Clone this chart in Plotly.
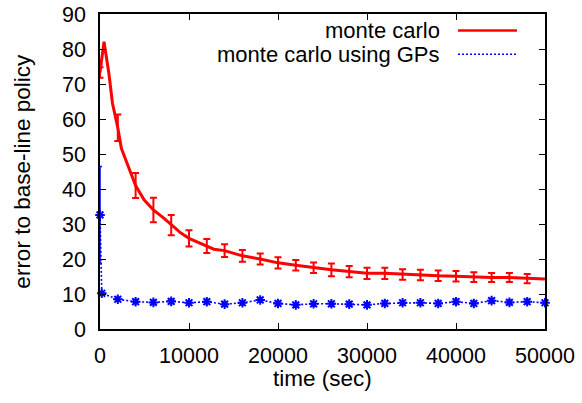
import plotly.graph_objects as go

# Red series: "monte carlo" (line points)
red_line_x = [0, 450, 1000, 1400, 2000, 2400, 2900, 3450, 4000, 4950, 6000, 7200, 8000, 9000,
              10000, 12000, 12800, 14000, 16000, 18000, 20000, 22000, 24000, 26000, 28000,
              30000, 32000, 34000, 36000, 38000, 40000, 42000, 44000, 46000, 48000, 50000]
red_line_y = [73.3, 82.1, 73.0, 64.5, 57.5, 51.6, 48.3, 44.5, 41.0, 36.9, 34.0, 31.6, 29.7, 27.6,
              25.9, 23.7, 22.8, 22.4, 20.9, 20.0, 18.9, 18.2, 17.5, 16.9, 16.4,
              15.9, 15.9, 15.6, 15.4, 15.2, 15.1, 14.8, 14.7, 14.7, 14.4, 14.3]

# Red error bars (every 2000 s)
red_err_x = [0, 2000, 4000, 6000, 8000, 10000, 12000, 14000, 16000, 18000, 20000, 22000, 24000,
             26000, 28000, 30000, 32000, 34000, 36000, 38000, 40000, 42000, 44000, 46000, 48000]
red_err_y = [73.3, 57.5, 41.0, 34.0, 29.7, 25.9, 23.7, 22.4, 20.9, 20.0, 18.9, 18.2, 17.5,
             16.9, 16.4, 15.9, 15.9, 15.6, 15.4, 15.2, 15.1, 14.8, 14.7, 14.7, 14.4]
red_err = [1.5, 3.8, 3.6, 3.5, 2.9, 2.3, 2.0, 1.8, 1.7, 1.6, 1.6, 1.5, 1.5,
           1.8, 1.6, 1.6, 1.6, 1.5, 1.5, 1.5, 1.5, 1.4, 1.3, 1.3, 1.3]

# Blue series: "monte carlo using GPs"
blue_x = [0, 200, 2000, 4000, 6000, 8000, 10000, 12000, 14000, 16000, 18000, 20000, 22000,
          24000, 26000, 28000, 30000, 32000, 34000, 36000, 38000, 40000, 42000, 44000, 46000,
          48000, 50000]
blue_y = [32.6, 10.2, 8.5, 7.8, 7.6, 7.9, 7.5, 7.8, 7.1, 7.5, 8.3, 7.3, 6.9,
          7.2, 7.2, 7.1, 6.9, 7.3, 7.5, 7.5, 7.3, 7.8, 7.3, 8.1, 7.6,
          7.8, 7.5]
blue_err = [13.8, 0.3, 0.6, 0.6, 0.6, 0.6, 0.6, 0.6, 0.6, 0.6, 0.6, 0.6, 0.6,
            0.6, 0.6, 0.6, 0.6, 0.6, 0.6, 0.6, 0.6, 0.6, 0.6, 0.6, 0.6,
            0.6, 0.0]

x_ticks = [0, 10000, 20000, 30000, 40000, 50000]
y_ticks = [0, 10, 20, 30, 40, 50, 60, 70, 80, 90]

legend_labels = ["monte carlo", "monte carlo using GPs"]
x_title = "time (sec)"
y_title = "error to base-line policy"

RED = "#ff0000"
BLUE = "#0000ff"
FONT = "Liberation Sans, Arial, sans-serif"
TICK_SIZE = 21.5
TEXT_SIZE = 22.5
LEGEND_SIZE = 22

fig = go.Figure()

fig.add_trace(go.Scatter(
    x=blue_x, y=blue_y, mode="lines+markers",
    line=dict(color=BLUE, width=1.6, dash="2px,2px"),
    marker=dict(symbol="asterisk-open", size=8, color=BLUE, line=dict(color=BLUE, width=2)),
    error_y=dict(type="data", array=blue_err, visible=True, color=BLUE, thickness=1.5, width=2),
    showlegend=False, cliponaxis=False))

fig.add_trace(go.Scatter(
    x=red_line_x, y=red_line_y, mode="lines",
    line=dict(color=RED, width=3),
    showlegend=False, cliponaxis=False))

fig.add_trace(go.Scatter(
    x=red_err_x, y=red_err_y, mode="markers",
    marker=dict(size=1, color=RED),
    error_y=dict(type="data", array=red_err, visible=True, color=RED, thickness=2, width=3.5),
    showlegend=False, cliponaxis=False))

axis_common = dict(
    showgrid=False, zeroline=False, showline=True, linecolor="black", linewidth=1.5,
    mirror="ticks", ticks="inside", ticklen=6, tickwidth=1, tickcolor="black",
    tickfont=dict(family=FONT, size=TICK_SIZE, color="black"),
)

fig.update_xaxes(range=[0, 50000], tickvals=x_ticks, ticktext=[str(v) for v in x_ticks],
                 ticklabelstandoff=6, **axis_common)
fig.update_yaxes(range=[0, 90], tickvals=y_ticks, ticktext=[str(v) for v in y_ticks],
                 ticklabelstandoff=8, **axis_common)

# Legend (text right-aligned, sample line to the right, gnuplot style)
LEG_Y = [0.948, 0.872]
fig.add_annotation(x=0.768, y=LEG_Y[0], xref="paper", yref="paper", text=legend_labels[0],
                   showarrow=False, xanchor="right", yanchor="middle",
                   font=dict(family=FONT, size=LEGEND_SIZE, color="black"))
fig.add_annotation(x=0.768, y=LEG_Y[1], xref="paper", yref="paper", text=legend_labels[1],
                   showarrow=False, xanchor="right", yanchor="middle",
                   font=dict(family=FONT, size=LEGEND_SIZE, color="black"))
fig.add_shape(type="line", xref="paper", yref="paper", x0=0.8045, x1=0.937, y0=LEG_Y[0], y1=LEG_Y[0],
              line=dict(color=RED, width=2.5))
fig.add_shape(type="line", xref="paper", yref="paper", x0=0.8045, x1=0.937, y0=LEG_Y[1], y1=LEG_Y[1],
              line=dict(color=BLUE, width=1.6, dash="2px,2px"))

# Axis titles
fig.add_annotation(x=0.5, y=-0.156, xref="paper", yref="paper", text=x_title,
                   showarrow=False, xanchor="center", yanchor="middle",
                   font=dict(family=FONT, size=TEXT_SIZE, color="black"))
fig.add_annotation(x=-0.175, y=0.5, xref="paper", yref="paper", text=y_title, textangle=-90,
                   showarrow=False, xanchor="center", yanchor="middle",
                   font=dict(family=FONT, size=TEXT_SIZE, color="black"))

fig.update_layout(
    width=582, height=403,
    margin=dict(l=100, r=37, t=14, b=74, autoexpand=False),
    paper_bgcolor="white", plot_bgcolor="white",
    font=dict(family=FONT, color="black"),
)

fig.write_html("out.html")
